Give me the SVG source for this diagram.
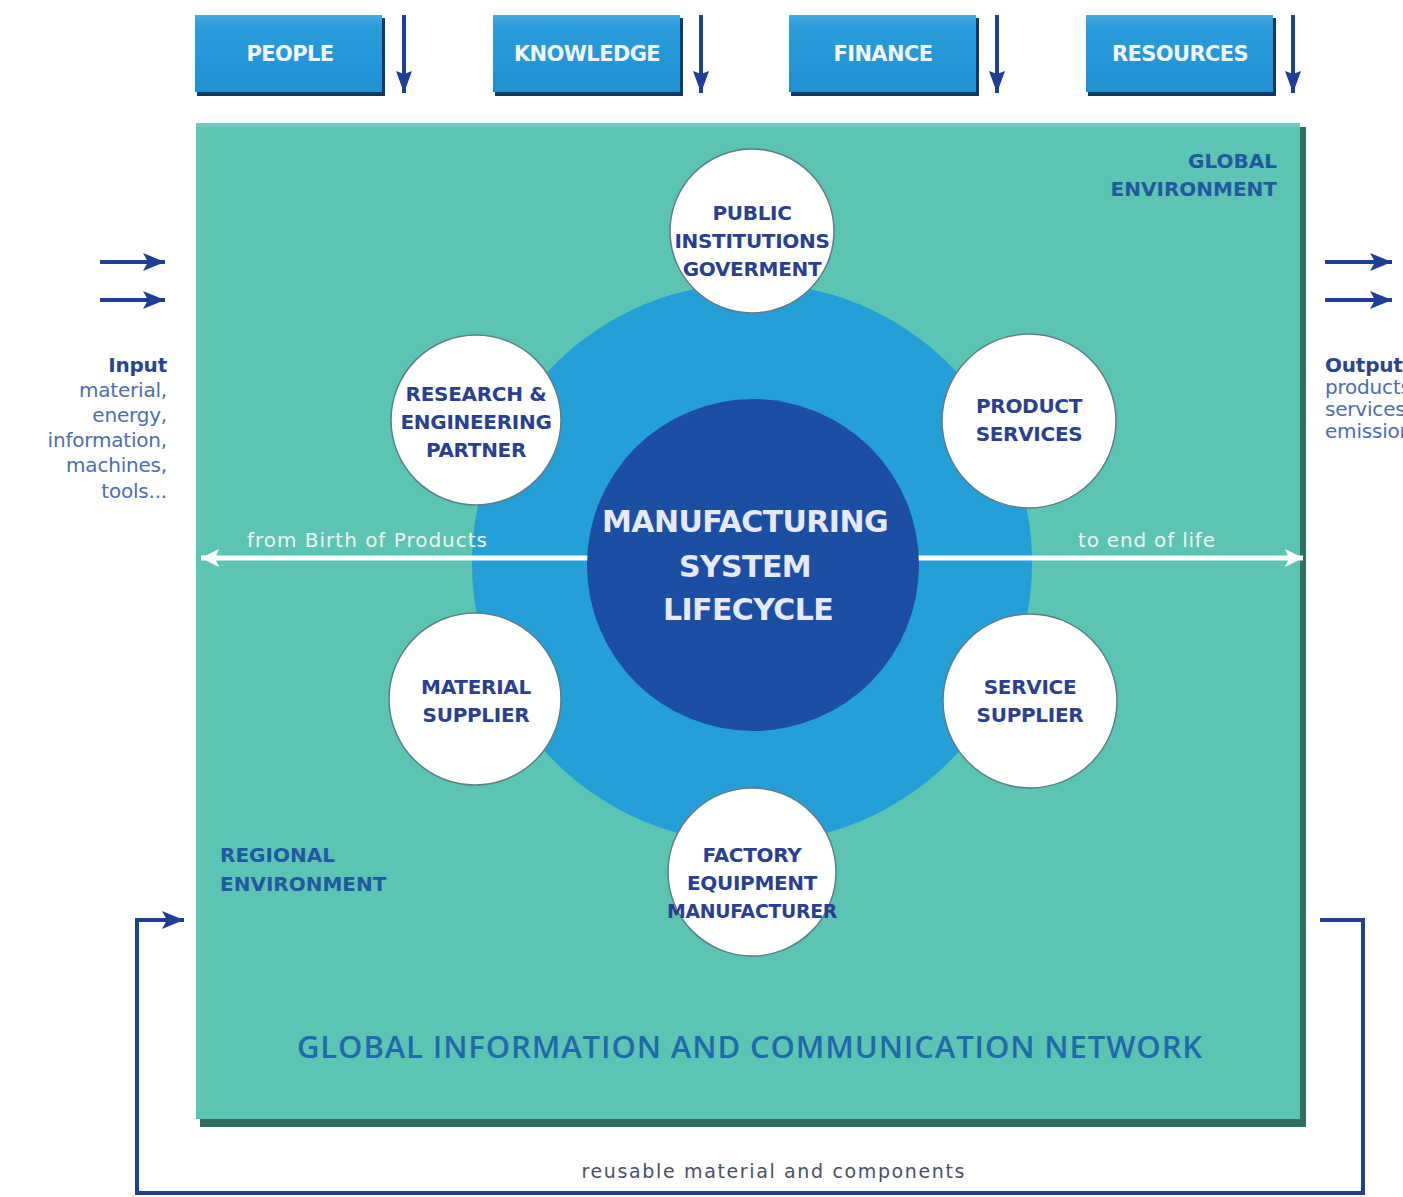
<svg xmlns="http://www.w3.org/2000/svg" width="1403" height="1197" viewBox="0 0 1403 1197">
<defs>
<style>
.boxtxt{font-family:"DejaVu Sans","Liberation Sans",sans-serif;font-weight:700;font-size:21px;fill:#f2f4ff;text-anchor:middle;letter-spacing:-0.6px}
.node{font-family:"DejaVu Sans","Liberation Sans",sans-serif;font-weight:700;font-size:20px;fill:#2a3f92;text-anchor:middle;letter-spacing:-0.3px}
.env{font-family:"DejaVu Sans","Liberation Sans",sans-serif;font-weight:700;font-size:20px;fill:#1f5aa0;letter-spacing:0px}
.io{font-family:"DejaVu Sans","Liberation Sans",sans-serif;font-size:20px;fill:#4d6db3;letter-spacing:-0.2px}
.iob{font-weight:700;fill:#2a4590}
.wlab{font-family:"DejaVu Sans","Liberation Sans",sans-serif;font-size:20px;fill:#eef6f4}
.center{font-family:"DejaVu Sans","Liberation Sans",sans-serif;font-weight:700;font-size:30px;fill:#e6e8fb;text-anchor:middle;letter-spacing:-0.6px}
.wcirc{fill:#ffffff;stroke:#5d7d8a;stroke-width:1.5}
.dk{stroke:#1f3f96;stroke-width:4;fill:none}
.topbox{fill:url(#boxg)}
.topsh{fill:#123a5e}
</style>
<linearGradient id="boxg" x1="0" y1="0" x2="0" y2="1">
<stop offset="0" stop-color="#45ace4"/>
<stop offset="0.15" stop-color="#2b9cdb"/>
<stop offset="1" stop-color="#1f90d2"/>
</linearGradient>
<marker id="ad" markerWidth="16" markerHeight="24" refX="8" refY="22" orient="0" markerUnits="userSpaceOnUse">
<path d="M0,0 L8,3 L16,0 L8,22 Z" fill="#1f3f96"/>
</marker>
<marker id="aw" markerWidth="18" markerHeight="18" refX="18" refY="9" orient="auto-start-reverse" markerUnits="userSpaceOnUse">
<path d="M0,0 L18,9 L0,18 L4,9 Z" fill="#ffffff"/>
</marker>
<marker id="ai" markerWidth="22" markerHeight="18" refX="22" refY="9" orient="auto" markerUnits="userSpaceOnUse">
<path d="M0,0 L22,9 L0,18 L5,9 Z" fill="#1f3f96"/>
</marker>
</defs>
<rect x="0" y="0" width="1403" height="1197" fill="#ffffff"/>

<!-- Top boxes -->
<g id="people">
<rect class="topsh" x="197" y="18" width="188" height="78"/>
<rect class="topbox" x="195" y="15" width="187" height="77"/>
<text class="boxtxt" x="290" y="61">PEOPLE</text>
</g>
<g id="knowledge">
<rect class="topsh" x="495" y="18" width="188" height="78"/>
<rect class="topbox" x="493" y="15" width="187" height="77"/>
<text class="boxtxt" x="587" y="61">KNOWLEDGE</text>
</g>
<g id="finance">
<rect class="topsh" x="791" y="18" width="188" height="78"/>
<rect class="topbox" x="789" y="15" width="187" height="77"/>
<text class="boxtxt" x="883" y="61">FINANCE</text>
</g>
<g id="resources">
<rect class="topsh" x="1088" y="18" width="188" height="78"/>
<rect class="topbox" x="1086" y="15" width="187" height="77"/>
<text class="boxtxt" x="1180" y="61">RESOURCES</text>
</g>

<!-- Main environment -->
<g id="environment">
<rect x="200" y="127" width="1106" height="1000" fill="#2f6e60"/>
<rect x="196" y="123" width="1104" height="996" fill="#5bc4b3"/>
<rect x="196" y="123" width="1104" height="4" fill="#7ad2c4" opacity="0.6"/>
<text class="env" x="1277" y="168" text-anchor="end">GLOBAL</text>
<text class="env" x="1277" y="196" text-anchor="end">ENVIRONMENT</text>
<text class="env" x="220" y="862" fill="#2163a6">REGIONAL</text>
<text class="env" x="220" y="891" fill="#2163a6">ENVIRONMENT</text>
<text x="750" y="1058" text-anchor="middle" font-family="'Open Sans','Liberation Sans',sans-serif" font-weight="600" font-size="31" fill="#1f6aaa" letter-spacing="0.9">GLOBAL INFORMATION AND COMMUNICATION NETWORK</text>
</g>

<g id="ring">
<circle cx="752" cy="563" r="280" fill="#259fd8"/>
</g>

<!-- Connectors -->
<g id="connectors">
<line x1="201" y1="558" x2="1303" y2="558" stroke="#ffffff" stroke-width="5" marker-start="url(#aw)" marker-end="url(#aw)"/>
<line x1="404" y1="15" x2="404" y2="93" class="dk" stroke-width="3" marker-end="url(#ad)"/>
<line x1="701" y1="15" x2="701" y2="93" class="dk" stroke-width="3" marker-end="url(#ad)"/>
<line x1="997" y1="15" x2="997" y2="93" class="dk" stroke-width="3" marker-end="url(#ad)"/>
<line x1="1293" y1="15" x2="1293" y2="93" class="dk" stroke-width="3" marker-end="url(#ad)"/>
<line x1="100" y1="262" x2="165" y2="262" class="dk" marker-end="url(#ai)"/>
<line x1="100" y1="300" x2="165" y2="300" class="dk" marker-end="url(#ai)"/>
<line x1="1325" y1="262" x2="1392" y2="262" class="dk" marker-end="url(#ai)"/>
<line x1="1325" y1="300" x2="1392" y2="300" class="dk" marker-end="url(#ai)"/>
<polyline points="1320,920 1363,920 1363,1193 137,1193 137,920 184,920" class="dk" marker-end="url(#ai)"/>
<text class="wlab" x="247" y="547" textLength="240" lengthAdjust="spacing">from Birth of Products</text>
<text class="wlab" x="1078" y="547" textLength="137" lengthAdjust="spacing">to end of life</text>
<text x="773" y="1178" text-anchor="middle" font-family="'DejaVu Sans','Liberation Sans',sans-serif" font-size="19" fill="#4a4f68" textLength="383" lengthAdjust="spacing">reusable material and components</text>
</g>

<g id="lifecycle">
<circle cx="753" cy="565" r="166" fill="#1c4ea3"/>
<text class="center" x="745" y="532">MANUFACTURING</text>
<text class="center" x="745" y="577">SYSTEM</text>
<text class="center" x="748" y="620">LIFECYCLE</text>
</g>

<g id="public">
<circle class="wcirc" cx="752" cy="231" r="82"/>
<text class="node" x="752" y="220">PUBLIC</text>
<text class="node" x="752" y="248">INSTITUTIONS</text>
<text class="node" x="752" y="276">GOVERMENT</text>
</g>
<g id="research">
<circle class="wcirc" cx="476" cy="420" r="85"/>
<text class="node" x="476" y="401">RESEARCH &amp;</text>
<text class="node" x="476" y="429">ENGINEERING</text>
<text class="node" x="476" y="457">PARTNER</text>
</g>
<g id="product">
<circle class="wcirc" cx="1029" cy="421" r="87"/>
<text class="node" x="1029" y="413">PRODUCT</text>
<text class="node" x="1029" y="441">SERVICES</text>
</g>
<g id="material">
<circle class="wcirc" cx="475" cy="699" r="86"/>
<text class="node" x="476" y="694">MATERIAL</text>
<text class="node" x="476" y="722">SUPPLIER</text>
</g>
<g id="service">
<circle class="wcirc" cx="1030" cy="701" r="87"/>
<text class="node" x="1030" y="694">SERVICE</text>
<text class="node" x="1030" y="722">SUPPLIER</text>
</g>
<g id="factory">
<circle class="wcirc" cx="752" cy="872" r="84"/>
<text class="node" x="752" y="862">FACTORY</text>
<text class="node" x="752" y="890">EQUIPMENT</text>
<text class="node" x="752" y="918" textLength="170" lengthAdjust="spacingAndGlyphs">MANUFACTURER</text>
</g>

<g id="input">
<text class="io iob" x="167" y="372" text-anchor="end">Input</text>
<text class="io" x="167" y="397" text-anchor="end">material,</text>
<text class="io" x="167" y="422" text-anchor="end">energy,</text>
<text class="io" x="167" y="447" text-anchor="end">information,</text>
<text class="io" x="167" y="472" text-anchor="end">machines,</text>
<text class="io" x="167" y="498" text-anchor="end">tools...</text>
</g>
<g id="output">
<text class="io iob" x="1325" y="372">Output</text>
<text class="io" x="1325" y="394">products,</text>
<text class="io" x="1325" y="416">services,</text>
<text class="io" x="1325" y="438">emissions</text>
</g>
</svg>
